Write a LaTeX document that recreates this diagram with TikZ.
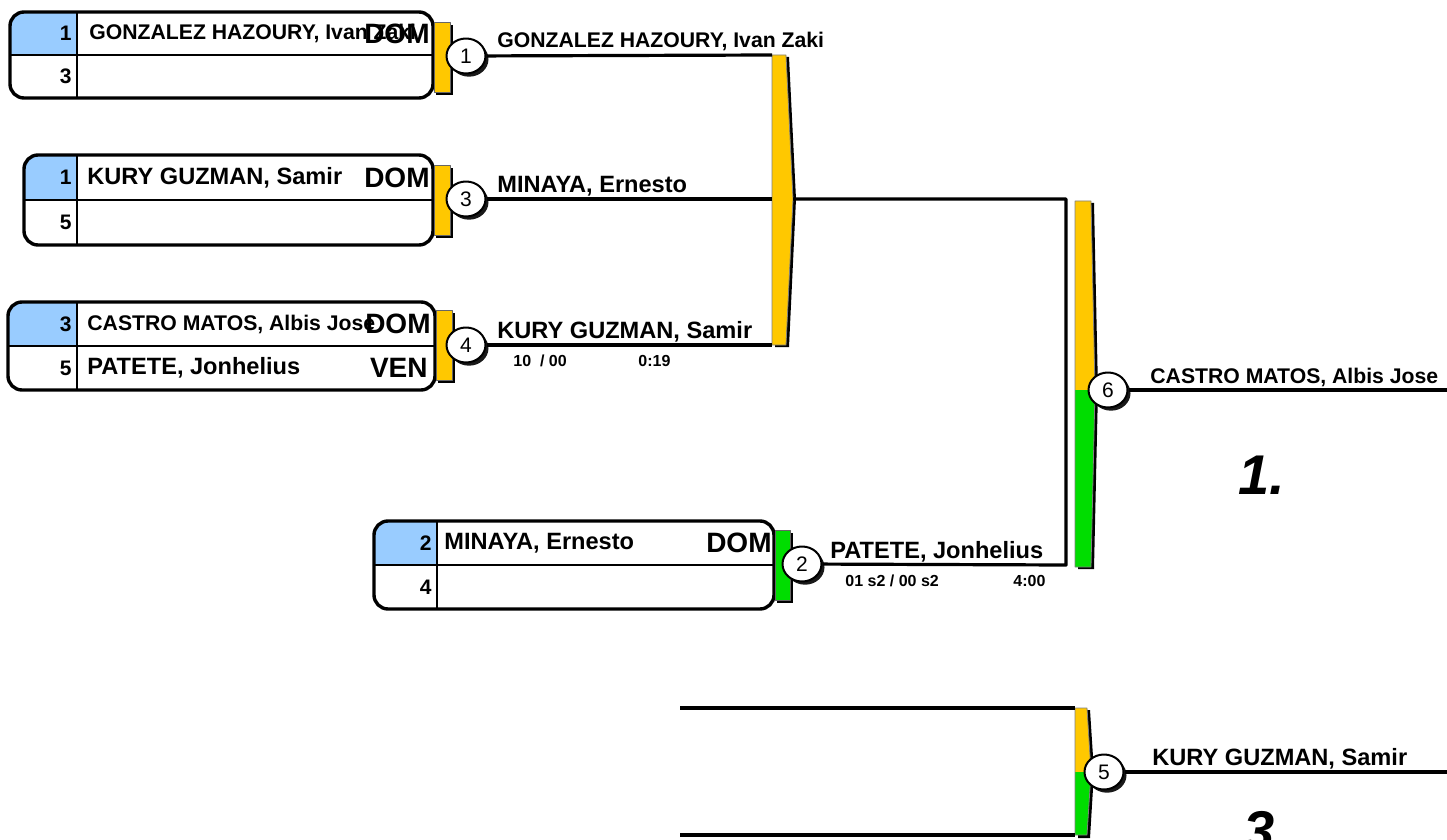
\documentclass[tikz,border=0pt]{standalone}
\usepackage{fontspec}
\setmainfont{Liberation Sans}
\usetikzlibrary{shapes.geometric, shadows}
\definecolor{seedblue}{HTML}{99CCFF}
\definecolor{bargold}{HTML}{FFC800}
\definecolor{bargreen}{HTML}{00DD00}

\begin{document}
\begin{tikzpicture}[x=0.5pt, y=-0.5pt, line join=round,
    pool/.style={line width=1.7pt, rounded corners=7pt},
    grid/.style={line width=0.8pt},
    wire/.style={line width=1.6pt},
    bout/.style={ellipse, draw=black, line width=1pt, fill=white,
        minimum width=19.5pt, minimum height=17.5pt, inner sep=0pt,
        font=\fontsize{10.5}{11}\selectfont,
        drop shadow={shadow xshift=1.5pt, shadow yshift=-1.6pt, fill=black, opacity=0.9}},
    seed/.style={anchor=east, inner sep=0pt, font=\fontsize{10.5}{12}\selectfont\bfseries},
    fighter/.style={anchor=west, inner sep=0pt, font=\fontsize{11.8}{13}\selectfont\bfseries},
    longname/.style={fighter, font=\fontsize{10.6}{12}\selectfont\bfseries},
    winner/.style={anchor=base west, inner sep=0pt, font=\fontsize{11.8}{13}\selectfont\bfseries},
    longwinner/.style={winner, font=\fontsize{10.6}{12}\selectfont\bfseries},
    nation/.style={anchor=east, inner sep=0pt, font=\fontsize{14}{15}\selectfont\bfseries},
    score/.style={anchor=west, inner sep=0pt, font=\fontsize{8}{9}\selectfont\bfseries},
    rank/.style={anchor=base west, inner sep=0pt, font=\fontsize{28}{30}\selectfont\bfseries\itshape},
    tab/.style={draw=black!60, line width=0.4pt},
    bar/.style={draw=black!50, line width=0.4pt}]

    \useasboundingbox (0,0) rectangle (1447,840);

    % --- Pool 1 ---
    \begin{scope}
      \clip[rounded corners=7pt] (10,12) rectangle (433,98);
      \fill[seedblue] (10,12) rectangle (77,55);
    \end{scope}
    \draw[grid] (10,55) -- (433,55);
    \draw[grid] (77,12) -- (77,98);
    \draw[pool] (10,12) rectangle (433,98);
    \node[seed] (s1a) at (72,33.5) {1};
    \node[seed] (s1b) at (72,76.5) {3};
    \node[longname] (f1a) at (89,33.5) {GONZALEZ HAZOURY, Ivan Zaki};
    \node[nation] (n1a) at (430,33.5) {DOM};

    % --- Pool 2 ---
    \begin{scope}
      \clip[rounded corners=7pt] (24,155) rectangle (433,245);
      \fill[seedblue] (24,155) rectangle (77,200);
    \end{scope}
    \draw[grid] (24,200) -- (433,200);
    \draw[grid] (77,155) -- (77,245);
    \draw[pool] (24,155) rectangle (433,245);
    \node[seed] (s2a) at (72,177.5) {1};
    \node[seed] (s2b) at (72,222.5) {5};
    \node[fighter] (f2a) at (87,177.5) {KURY GUZMAN, Samir};
    \node[nation] (n2a) at (430,177.5) {DOM};

    % --- Pool 3 ---
    \begin{scope}
      \clip[rounded corners=7pt] (8,302) rectangle (435,390);
      \fill[seedblue] (8,302) rectangle (77,346);
    \end{scope}
    \draw[grid] (8,346) -- (435,346);
    \draw[grid] (77,302) -- (77,390);
    \draw[pool] (8,302) rectangle (435,390);
    \node[seed] (s3a) at (72,324) {3};
    \node[seed] (s3b) at (72,368) {5};
    \node[longname] (f3a) at (87,324) {CASTRO MATOS, Albis Jose};
    \node[fighter] (f3b) at (87,368) {PATETE, Jonhelius};
    \node[nation] (n3a) at (431,324) {DOM};
    \node[nation] (n3b) at (428,368) {VEN};

    % --- Pool 4 ---
    \begin{scope}
      \clip[rounded corners=7pt] (374,521) rectangle (774,609);
      \fill[seedblue] (374,521) rectangle (437,565);
    \end{scope}
    \draw[grid] (374,565) -- (774,565);
    \draw[grid] (437,521) -- (437,609);
    \draw[pool] (374,521) rectangle (774,609);
    \node[seed] (s4a) at (432,543) {2};
    \node[seed] (s4b) at (432,587) {4};
    \node[fighter] (f4a) at (444,543) {MINAYA, Ernesto};
    \node[nation] (n4a) at (772,543) {DOM};

    % --- Tabs next to the pools ---
    \fill[black] (436,25) rectangle (453,95);
    \filldraw[tab, fill=bargold] (434,22) rectangle (450,92);
    \fill[black] (436,168) rectangle (453,238);
    \filldraw[tab, fill=bargold] (434,165) rectangle (450,235);
    \fill[black] (438,313) rectangle (455,383);
    \filldraw[tab, fill=bargold] (436,310) rectangle (452,380);
    \fill[black] (777,533) rectangle (793,603);
    \filldraw[tab, fill=bargreen] (775,530) rectangle (790,600);

    % --- Bars ---
    \fill[black] (775,57) -- (789,57) -- (796,199) -- (789,347) -- (775,347) -- cycle;
    \filldraw[bar, fill=bargold] (772,55) -- (786,55) -- (793,199) -- (786,345) -- (772,345) -- cycle;

    \fill[black] (1078,203) -- (1094,203) -- (1098,390) -- (1094,569) -- (1078,569) -- cycle;
    \fill[bargold] (1075,201) -- (1091,201) -- (1095,390) -- (1075,390) -- cycle;
    \fill[bargreen] (1075,390) -- (1095,390) -- (1091,567) -- (1075,567) -- cycle;
    \draw[bar] (1075,201) -- (1091,201) -- (1095,390) -- (1091,567) -- (1075,567) -- cycle;

    \fill[black] (1078,710) -- (1090,710) -- (1094,772) -- (1090,838) -- (1078,838) -- cycle;
    \fill[bargold] (1075,708) -- (1087,708) -- (1091,772) -- (1075,772) -- cycle;
    \fill[bargreen] (1075,772) -- (1091,772) -- (1087,835) -- (1075,835) -- cycle;
    \draw[bar] (1075,708) -- (1087,708) -- (1091,772) -- (1087,835) -- (1075,835) -- cycle;

    % --- Bouts ---
    \node[bout] (m1) at (466,56) {1};
    \node[bout] (m3) at (466,199) {3};
    \node[bout] (m4) at (466,345) {4};
    \node[bout] (m2) at (802,564) {2};
    \node[bout] (m6) at (1108,390) {6};
    \node[bout] (m5) at (1104,772) {5};

    % --- Connectors ---
    \coordinate (b1a) at (772,55);
    \coordinate (b1b) at (772,199);
    \coordinate (b1c) at (772,345);
    \coordinate (t1) at (793,199);
    \coordinate (j1) at (1066,199);
    \coordinate (j2) at (1066,565);
    \coordinate (e6) at (1447,390);
    \coordinate (e5) at (1447,772);
    \coordinate (q1) at (680,708);
    \coordinate (q1e) at (1075,708);
    \coordinate (q2) at (680,835);
    \coordinate (q2e) at (1075,835);

    \draw[wire] (m1) -- (b1a);
    \draw[wire] (m3) -- (b1b);
    \draw[wire] (m4) -- (b1c);
    \draw[wire] (t1) -- (j1) -- (j2) -- (m2);
    \draw[wire] (m6) -- (e6);
    \draw[wire] (m5) -- (e5);
    \draw[wire] (q1) -- (q1e);
    \draw[wire] (q2) -- (q2e);

    % --- Winners and results ---
    \node[longwinner] (w1) at (497,48) {GONZALEZ HAZOURY, Ivan Zaki};
    \node[winner] (w3) at (497,192) {MINAYA, Ernesto};
    \node[winner] (w4) at (497,338) {KURY GUZMAN, Samir};
    \node[score] (r4a) at (513,361) {10\ \ / 00};
    \node[score] (r4b) at (638,361) {0:19};
    \node[winner] (w2) at (830,558) {PATETE, Jonhelius};
    \node[score] (r2a) at (845,581) {01 s2 / 00 s2};
    \node[score] (r2b) at (1013,581) {4:00};
    \node[longwinner] (w6) at (1150,383) {CASTRO MATOS, Albis Jose};
    \node[winner] (w5) at (1152,765) {KURY GUZMAN, Samir};

    % --- Places ---
    \node[rank] (p1) at (1238,494) {1.};
    \node[rank] (p3) at (1243,850) {3.};

\end{tikzpicture}
\end{document}
